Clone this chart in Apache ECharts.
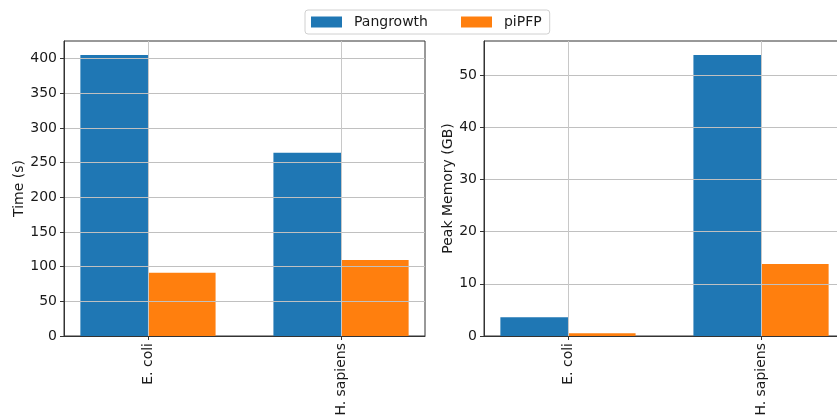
<!DOCTYPE html>
<html>
<head>
<meta charset="utf-8">
<script src="https://cdn.jsdelivr.net/npm/echarts@6/dist/echarts.min.js"></script>
<style>
  html, body { margin: 0; padding: 0; background: #fff; }
  #chart { width: 837px; height: 418px; }
</style>
</head>
<body>
<div id="chart"></div>
<script>
// Benchmark results: run time and peak memory per genome set
const categories = ['E. coli', 'H. sapiens'];
const seriesNames = ['Pangrowth', 'piPFP'];
const timePangrowth = [405, 264];
const timePipfp = [91, 109.5];
const memPangrowth = [3.6, 53.8];
const memPipfp = [0.55, 13.8];
const timeTicks = [0, 50, 100, 150, 200, 250, 300, 350, 400];
const memTicks = [0, 10, 20, 30, 40, 50];

const colors = ['#1f77b4', '#ff7f0e'];
const FONT = 'DejaVu Sans';
const spine = '#333333';
const catPos = categories.map((_, i) => i);

const chart = echarts.init(document.getElementById('chart'), null, { renderer: 'canvas' });

function xAxisFor(gridIndex) {
  return {
    type: 'value', gridIndex, min: -0.435, max: 1.435, z: 3,
    axisLine: { show: true, onZero: false, lineStyle: { color: spine, width: 1 } },
    axisTick: { show: true, customValues: catPos, length: 4, lineStyle: { color: spine } },
    axisLabel: {
      customValues: catPos, rotate: 90, margin: 7,
      formatter: v => categories[Math.round(v)],
      fontFamily: FONT, fontSize: 14, color: '#1a1a1a'
    },
    splitLine: { show: true, lineStyle: { color: '#c8c8c8', width: 1 } }
  };
}

function yAxisFor(gridIndex, name, max, ticks, gap) {
  return {
    type: 'value', gridIndex, min: 0, max, z: 3,
    name, nameLocation: 'middle', nameGap: gap,
    nameTextStyle: { fontFamily: FONT, fontSize: 14, color: '#1a1a1a' },
    axisLine: { show: true, onZero: false, lineStyle: { color: spine, width: 1 } },
    axisTick: { show: true, customValues: ticks, length: 4, lineStyle: { color: spine } },
    axisLabel: { customValues: ticks, margin: 7, fontFamily: FONT, fontSize: 14, color: '#1a1a1a' },
    splitLine: { show: true, lineStyle: { color: '#c0c0c0', width: 1 } }
  };
}

function barSeries(name, color, values, axisIndex) {
  return {
    name, type: 'bar', xAxisIndex: axisIndex, yAxisIndex: axisIndex,
    data: values.map((v, i) => [i, v]),
    barWidth: 67.6, barGap: '0%',
    itemStyle: { color },
    emphasis: { disabled: true },
    animation: false
  };
}

const gridBase = {
  top: 41, width: 361, height: 295,
  show: true, borderColor: spine, borderWidth: 1, backgroundColor: 'transparent',
  containLabel: false, outerBoundsMode: 'none'
};

chart.setOption({
  animation: false,
  backgroundColor: '#ffffff',
  textStyle: { fontFamily: FONT },
  legend: {
    data: seriesNames,
    top: 10, left: 305,
    itemWidth: 31, itemHeight: 11, itemGap: 33,
    padding: [5, 8, 5, 6],
    borderColor: '#d0d0d0', borderWidth: 1, borderRadius: 3,
    icon: 'rect',
    textStyle: { fontFamily: FONT, fontSize: 14, color: '#1a1a1a', padding: [0, 0, 0, 7] }
  },
  grid: [
    Object.assign({ left: 64 }, gridBase),
    Object.assign({ left: 484 }, gridBase)
  ],
  xAxis: [xAxisFor(0), xAxisFor(1)],
  yAxis: [
    yAxisFor(0, 'Time (s)', 425.25, timeTicks, 38),
    yAxisFor(1, 'Peak Memory (GB)', 56.49, memTicks, 29)
  ],
  series: [
    barSeries(seriesNames[0], colors[0], timePangrowth, 0),
    barSeries(seriesNames[1], colors[1], timePipfp, 0),
    barSeries(seriesNames[0], colors[0], memPangrowth, 1),
    barSeries(seriesNames[1], colors[1], memPipfp, 1)
  ]
});
</script>
</body>
</html>
